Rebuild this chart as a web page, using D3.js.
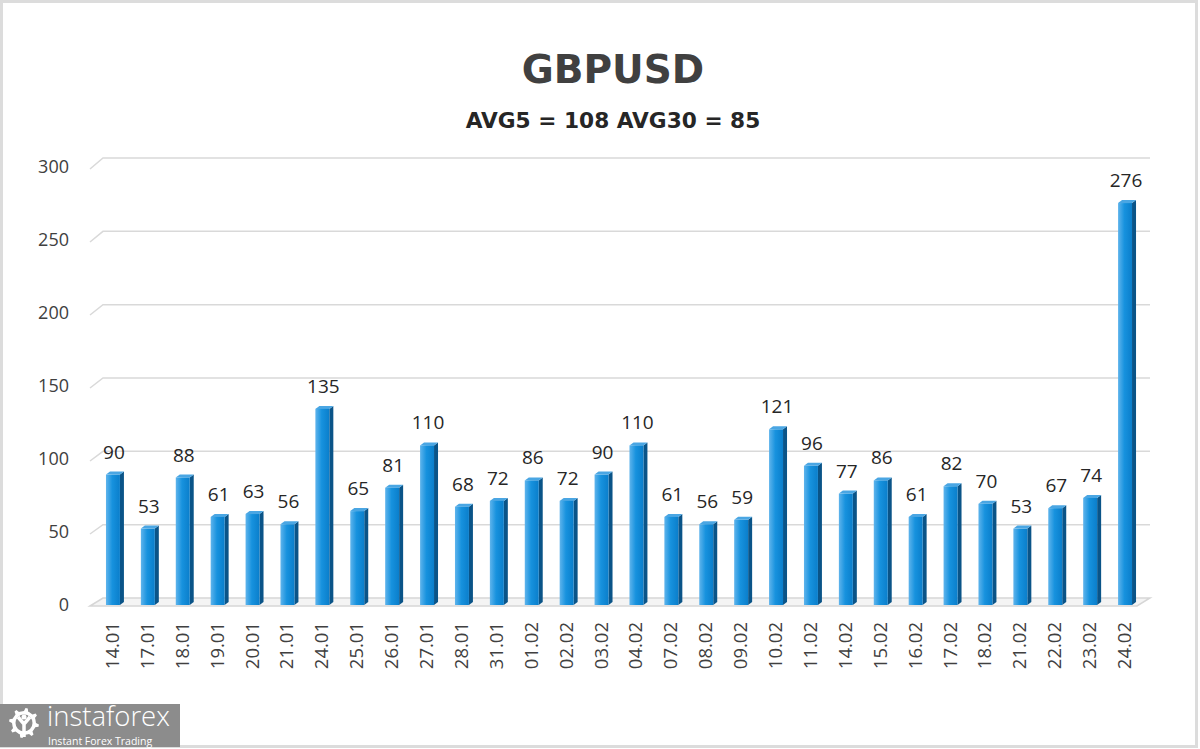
<!DOCTYPE html>
<html><head><meta charset="utf-8">
<script src="https://cdn.jsdelivr.net/npm/d3@7"></script>
<style>body{margin:0;background:#fff;}svg{display:block;}</style>
</head><body>
<svg id="c" width="1200" height="749"></svg>
<script>
const dates = ["14.01","17.01","18.01","19.01","20.01","21.01","24.01","25.01","26.01","27.01","28.01","31.01","01.02","02.02","03.02","04.02","07.02","08.02","09.02","10.02","11.02","14.02","15.02","16.02","17.02","18.02","21.02","22.02","23.02","24.02"];
const values = [90,53,88,61,63,56,135,65,81,110,68,72,86,72,90,110,61,56,59,121,96,77,86,61,82,70,53,67,74,276];
const yTicks = [0,50,100,150,200,250,300];
const title = "GBPUSD";
const subtitle = "AVG5 = 108 AVG30 = 85";

const svg = d3.select("#c");
const font = "'Open Sans', sans-serif";
const tfont = "'DejaVu Sans', sans-serif";

// frame
svg.append("rect").attr("x",1.5).attr("y",1.5).attr("width",1195).attr("height",745)
  .attr("fill","#fff").attr("stroke","#dcdcdc").attr("stroke-width",3);

const defs = svg.append("defs");
const g1 = defs.append("linearGradient").attr("id","barg").attr("x1","0").attr("x2","1").attr("y1","0").attr("y2","0");
g1.append("stop").attr("offset","0").attr("stop-color","#5fb4ec");
g1.append("stop").attr("offset","0.45").attr("stop-color","#1792de");
g1.append("stop").attr("offset","1").attr("stop-color","#0a7ecb");

const x = d3.scaleBand().domain(dates).range([95.5, 1142.5]).paddingInner(0.6).paddingOuter(0.3);
const yBack = d3.scaleLinear().domain([0,300]).range([598,158]);
const yFront = d3.scaleLinear().domain([0,300]).range([605,167]);
const gx0 = 90, gx1 = 103, gxEnd = 1150;

// floor
svg.append("path")
  .attr("d", `M${gx0},${yFront(0)+1} L${gx1},${yBack(0)} L${gxEnd},${yBack(0)} L${gxEnd-13},${yFront(0)+1} Z`)
  .attr("fill","#f4f4f4").attr("stroke","#d6d6d6").attr("stroke-width",1.5);

// gridlines
const grid = svg.append("g");
yTicks.forEach(t => {
  if (t === 0) return;
  grid.append("path")
    .attr("d", `M${gx0},${yFront(t)+2} L${gx1},${yBack(t)} L${gxEnd},${yBack(t)}`)
    .attr("fill","none").attr("stroke","#d9d9d9").attr("stroke-width",1.5);
});

// y labels
svg.append("g").selectAll("text").data(yTicks).join("text")
  .attr("x",69).attr("y",d=>yFront(d)+1)
  .attr("text-anchor","end").attr("dominant-baseline","middle")
  .attr("font-family",font).attr("font-size",18).attr("fill","#404040")
  .text(d=>d);

// bars
const bw = x.bandwidth(), dx = 4, dy = 3;
const bars = svg.append("g");
dates.forEach((d,i) => {
  const x0 = x(d), top = yFront(values[i]) + 1, bot = yFront(0);
  bars.append("path")
    .attr("d", `M${x0+bw},${top} L${x0+bw+dx},${top-dy} L${x0+bw+dx},${bot-dy} L${x0+bw},${bot} Z`)
    .attr("fill","#0a5488");
  bars.append("path")
    .attr("d", `M${x0},${top} L${x0+dx},${top-dy} L${x0+bw+dx},${top-dy} L${x0+bw},${top} Z`)
    .attr("fill","#4aa6e3");
  bars.append("rect").attr("x",x0).attr("y",top).attr("width",bw).attr("height",bot-top)
    .attr("fill","url(#barg)");
});

// value labels
svg.append("g").selectAll("text").data(values).join("text")
  .attr("x",(d,i)=>x(dates[i])+bw/2+1).attr("y",d=>yFront(d)-15)
  .attr("text-anchor","middle")
  .attr("font-family",font).attr("font-size",19).attr("fill","#262626")
  .text(d=>d);

// x labels
svg.append("g").selectAll("text").data(dates).join("text")
  .attr("transform",d=>`translate(${x(d)+bw/2+1},622) rotate(-90)`)
  .attr("text-anchor","end").attr("dominant-baseline","middle")
  .attr("font-family",font).attr("font-size",18.5).attr("fill","#404040")
  .text(d=>d);

// titles
svg.append("text").attr("x",613).attr("y",83).attr("text-anchor","middle")
  .attr("font-family",tfont).attr("font-weight","bold").attr("font-size",39).attr("fill","#404040")
  .text(title);
svg.append("text").attr("x",613).attr("y",128).attr("text-anchor","middle")
  .attr("font-family",tfont).attr("font-weight","bold").attr("font-size",21.7).attr("fill","#262626")
  .text(subtitle);

// logo
const lg = svg.append("g");
lg.append("rect").attr("x",0).attr("y",704).attr("width",180).attr("height",43).attr("fill","#8c8c8c");
const cx = 24, cy = 723;
const teeth = 8, rO = 15, rI = 12;
let gp = "";
for (let k=0;k<teeth;k++){
  const a0 = (k/teeth)*2*Math.PI, a1 = a0 + Math.PI/teeth*0.9, am=a0+Math.PI/teeth;
  const p = (r,a)=>`${cx+r*Math.cos(a)},${cy+r*Math.sin(a)}`;
  gp += (k===0?"M":"L")+p(rI,a0)+" L"+p(rO,a0+0.1)+" L"+p(rO,a1-0.1)+" L"+p(rI,a1)+" L"+p(rI,am+Math.PI/teeth*0.1);
}
gp += "Z";
lg.append("path").attr("d",gp).attr("fill","#fff");
lg.append("circle").attr("cx",cx).attr("cy",cy).attr("r",8.5).attr("fill","#8c8c8c");
lg.append("path").attr("d",`M${cx-6},${cy-6} L${cx},${cy+1} L${cx+6},${cy-6} M${cx},${cy+1} L${cx},${cy+14}`)
  .attr("stroke","#fff").attr("stroke-width",3.5).attr("fill","none");
lg.append("circle").attr("cx",cx).attr("cy",cy-6).attr("r",2.5).attr("fill","#fff");
lg.append("text").attr("x",47).attr("y",726).attr("font-family",font).attr("font-weight","300")
  .attr("font-size",27.5).attr("fill","#fff").text("instaforex");
lg.append("text").attr("x",48).attr("y",745).attr("font-family",font)
  .attr("font-size",10.5).attr("fill","#fff").text("Instant Forex Trading");
</script>
</body></html>
